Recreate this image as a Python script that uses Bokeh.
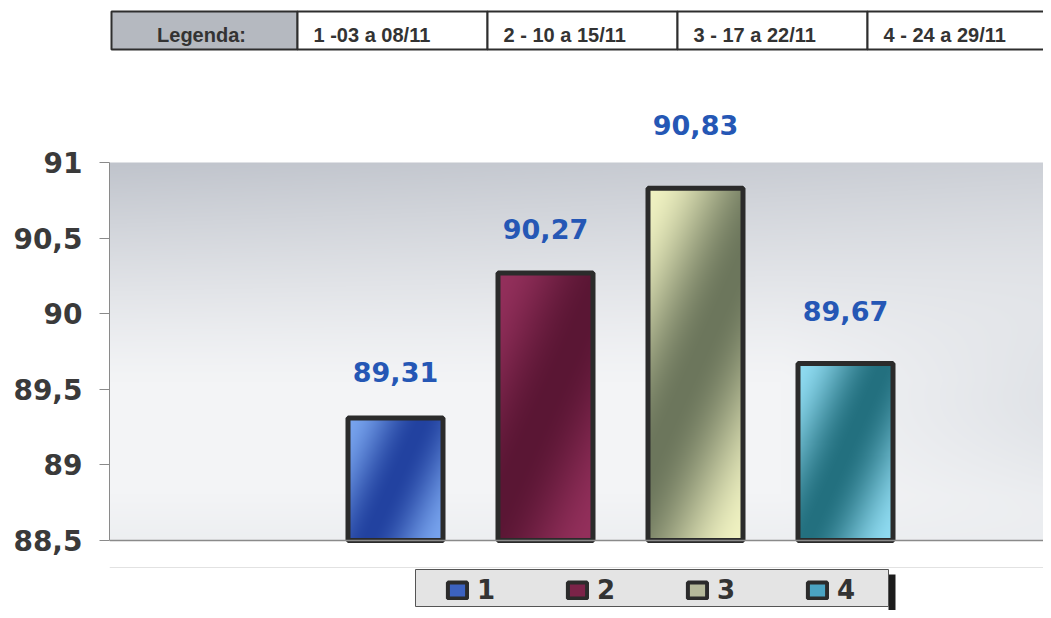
import numpy as np
from bokeh.plotting import figure
from bokeh.models import ColumnDataSource, Range1d, FixedTicker, Span, BoxAnnotation
from bokeh.core.properties import value
from bokeh.embed import file_html
from bokeh.resources import INLINE

# ---- data ----
series_names = ["1", "2", "3", "4"]
values = [89.31, 90.27, 90.83, 89.67]
value_labels = ["89,31", "90,27", "90,83", "89,67"]
bar_colors = ["#3c62c0", "#7b2348", "#b5b99a", "#4aa3c2"]
bar_light = ["#78a4ee", "#94305c", "#f0f2c2", "#90dcf2"]
bar_dark = ["#2242a0", "#5a1634", "#6c765c", "#23707f"]
period_labels = ["1 -03 a 08/11", "2 - 10 a 15/11", "3 - 17 a 22/11", "4 - 24 a 29/11"]
table_title = "Legenda:"
y_ticks = [88.5, 89, 89.5, 90, 90.5, 91]
y_tick_labels = ["88,5", "89", "89,5", "90", "90,5", "91"]
baseline = 88.5

# label placement (screen pixels above the bar top; layout only)
label_offsets = [-46, -44, -63, -53]

# ---- layout helpers (page pixels -> data) ----
W, H = 1043, 610
FRAME_LEFT = 109
PX_X = 150.0
PX_Y = 151.2
x0 = 1 - (395 - FRAME_LEFT) / PX_X
x1 = x0 + (W - FRAME_LEFT) / PX_X
y0 = 88.5 - (H - 540) / PX_Y
y1 = 91 + 162 / PX_Y


def X(px):
    return x0 + (px - FRAME_LEFT) / PX_X


def Y(py):
    return 91 - (py - 162) / PX_Y


def hex2rgb(c):
    return np.array([int(c[i:i + 2], 16) for i in (1, 3, 5)], dtype=float)


def to_rgba(rgb):
    rgb = np.clip(rgb, 0, 255).astype(np.uint32)
    h, w = rgb.shape[:2]
    out = np.empty((h, w), dtype=np.uint32)
    view = out.view(dtype=np.uint8).reshape((h, w, 4))
    view[:, :, 0] = rgb[:, :, 0]
    view[:, :, 1] = rgb[:, :, 1]
    view[:, :, 2] = rgb[:, :, 2]
    view[:, :, 3] = 255
    return out


FONT = "Liberation Sans"
BIG = "DejaVu Sans"

p = figure(width=W, height=H, output_backend="svg", toolbar_location=None,
           x_range=Range1d(x0, x1), y_range=Range1d(y0, y1),
           x_axis_location=None, min_border_left=FRAME_LEFT,
           min_border_right=0, min_border_top=0, min_border_bottom=0)
p.outline_line_color = None
p.grid.visible = False
p.background_fill_color = "white"
p.border_fill_color = "white"

# ---- plot-area background gradient (decoration) ----
bw, bh = W - FRAME_LEFT, 540 - 162
u = np.linspace(0, 1, bw)[None, :]
v = np.linspace(0, 1, bh)[:, None]          # 0 at bottom, 1 at top
s = np.clip((v - 0.42) / 0.58, 0, 1) ** 1.25
s = s * (1.0 - 0.25 * u)
base = hex2rgb("#f3f4f6")[None, None, :] * (1 - s[..., None]) + \
    hex2rgb("#c0c4cc")[None, None, :] * s[..., None]
wash = np.clip((u - 0.72) / 0.28, 0, 1) * np.exp(-((v - 0.38) / 0.28) ** 2) * 0.55
base = base * (1 - wash[..., None]) + hex2rgb("#d2d6dc")[None, None, :] * wash[..., None]
bottom = np.clip((0.12 - v) / 0.12, 0, 1) * 0.35
base = base * (1 - bottom[..., None]) + hex2rgb("#e2e5e9")[None, None, :] * bottom[..., None]
p.image_rgba(image=[to_rgba(base)], x=X(FRAME_LEFT), y=Y(540),
             dw=bw / PX_X, dh=bh / PX_Y)

# faint separator line under the chart
p.add_layout(Span(location=Y(567), dimension="width", line_color="#e2e2e2",
                  line_width=1))

# ---- bars ----
bar_w = 95 / PX_X
xs = list(range(1, len(values) + 1))
src = ColumnDataSource(dict(x=xs, top=values, color=bar_colors, label=series_names,
                            vlabel=value_labels, yoff=label_offsets))
p.vbar(x="x", top="top", bottom=baseline, width=bar_w, source=src,
       fill_color="color", line_color="#2b2b2b", line_width=4,
       legend_field="label")

# shaded overlay inside each bar (derived from the data)
imgs, ix, iw, ih = [], [], [], []
for xi, top, lc, dc in zip(xs, values, bar_light, bar_dark):
    wpx = int(round(bar_w * PX_X))
    hpx = max(2, int(round((top - baseline) * PX_Y)))
    uu = np.linspace(0, 1, wpx)[None, :]
    yt = np.linspace(1, 0, hpx)[:, None]      # image row 0 = bottom
    k = hpx / (wpx * 2.2)
    d = (uu + yt * k) / (1 + k)
    f = (1 + np.cos(2 * np.pi * d)) / 2
    rgb = hex2rgb(dc)[None, None, :] * (1 - f[..., None]) + hex2rgb(lc)[None, None, :] * f[..., None]
    imgs.append(to_rgba(rgb))
    ix.append(xi - bar_w / 2)
    iw.append(bar_w)
    ih.append(top - baseline)
p.image_rgba(image=imgs, x=ix, y=[baseline] * len(imgs), dw=iw, dh=ih)

p.vbar(x="x", top="top", bottom=baseline, width=bar_w, source=src,
       fill_alpha=0, line_color="#2b2b2b", line_width=5)

p.text(x="x", y="top", text="vlabel", source=src, text_align="center",
       text_baseline="alphabetic", y_offset="yoff",
       text_font=value(BIG), text_font_style="bold",
       text_font_size="27px", text_color="#2557b5")

# baseline line
p.add_layout(Span(location=baseline, dimension="width", line_color="#8a8a8a",
                  line_width=1.5))

# ---- y axis ----
ax = p.yaxis[0]
ax.bounds = (88.5, 91)
ax.ticker = FixedTicker(ticks=y_ticks)
ax.major_label_overrides = {t: l for t, l in zip(y_ticks, y_tick_labels)}
ax.minor_tick_line_color = None
ax.major_tick_in = 0
ax.major_tick_out = 10
ax.major_tick_line_color = "#8a8a8a"
ax.axis_line_color = "#8a8a8a"
ax.major_label_standoff = 17
ax.major_label_text_font = BIG
ax.major_label_text_font_style = "bold"
ax.major_label_text_font_size = "28px"
ax.major_label_text_color = "#3a3a3a"

# ---- top legend table ----
cell_edges = [111, 297, 487, 677, 867, 1060]
tb_top, tb_bot = 11, 49
for i in range(len(cell_edges) - 1):
    p.add_layout(BoxAnnotation(left=X(cell_edges[i]), right=X(cell_edges[i + 1]),
                               top=Y(tb_top), bottom=Y(tb_bot),
                               fill_color="#b5b9c0" if i == 0 else "white",
                               fill_alpha=1, line_color="#2e2e2e", line_alpha=1,
                               line_width=2, level="underlay"))
tx = [X(201)] + [X(e + 16) for e in cell_edges[1:5]]
ty = [Y(34)] * 5
p.text(x=tx[:1], y=ty[:1], text=[table_title], text_align="center",
       text_baseline="middle", text_font=value(FONT),
       text_font_style="bold", text_font_size="20px", text_color="#333333")
p.text(x=tx[1:], y=ty[1:], text=period_labels, text_align="left",
       text_baseline="middle", text_font=value(FONT),
       text_font_style="bold", text_font_size="20px", text_color="#333333")

# ---- bottom legend box ----
p.add_layout(BoxAnnotation(left=X(888), right=X(895), top=Y(574), bottom=Y(612),
                           fill_color="#1c1c1c", fill_alpha=1, line_color=None))
p.add_layout(BoxAnnotation(left=X(415), right=X(888), top=Y(569), bottom=Y(606),
                           fill_color="#e4e4e4", fill_alpha=1,
                           line_color="#555555", line_alpha=1, line_width=1))

lg = p.legend[0]
lg.orientation = "horizontal"
lg.location = (336, 5)
lg.border_line_color = None
lg.background_fill_alpha = 0
lg.padding = 4
lg.margin = 0
lg.glyph_width = 24
lg.glyph_height = 20
lg.label_standoff = 8
lg.label_width = 20
lg.label_height = 26
lg.spacing = 68
lg.label_text_font = BIG
lg.label_text_font_style = "bold"
lg.label_text_font_size = "26px"
lg.label_text_color = "#333333"
lg.label_text_baseline = "middle"

open("out.html", "w").write(file_html(p, INLINE))
